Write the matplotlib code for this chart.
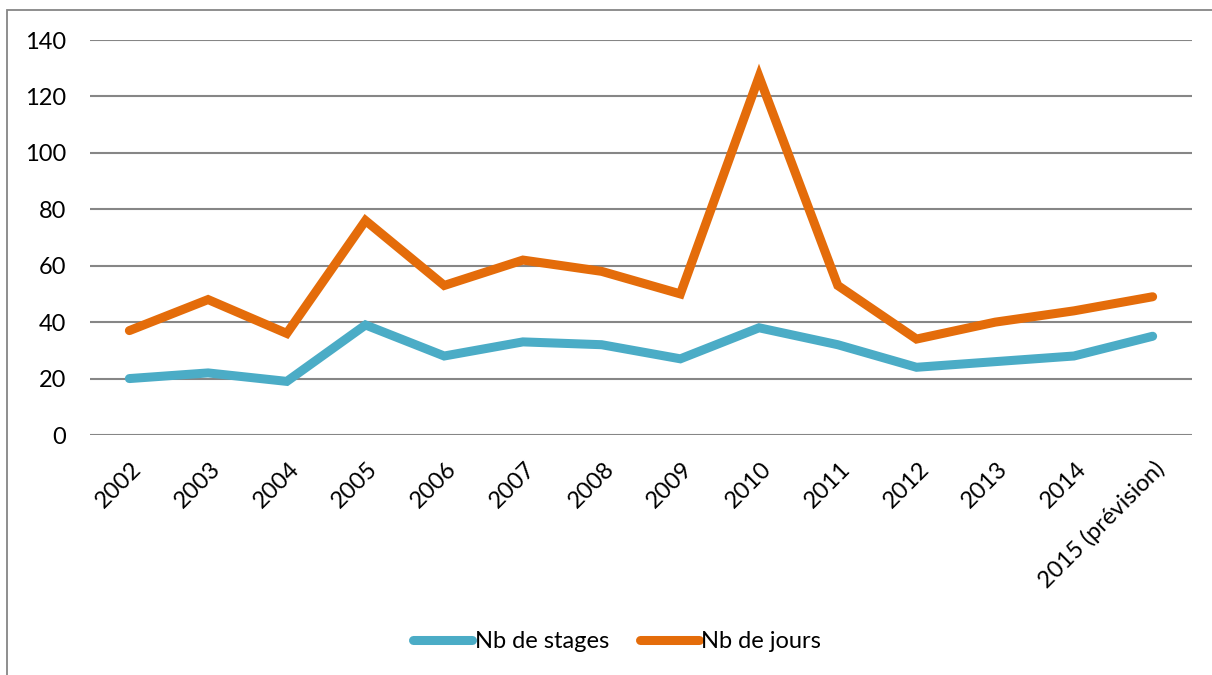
import matplotlib
matplotlib.use("Agg")
import matplotlib.pyplot as plt
from matplotlib.patches import Rectangle
from matplotlib.transforms import ScaledTranslation

# données
annees = ["2002", "2003", "2004", "2005", "2006", "2007", "2008", "2009",
          "2010", "2011", "2012", "2013", "2014", "2015 (prévision)"]
nb_stages = [20, 22, 19, 39, 28, 33, 32, 27, 38, 32, 24, 26, 28, 35]
nb_jours = [37, 48, 36, 76, 53, 62, 58, 50, 127, 53, 34, 40, 44, 49]
y_ticks = [0, 20, 40, 60, 80, 100, 120, 140]

bleu = "#4BACC6"
orange = "#E46C0A"
gris = "#868686"

plt.rcParams["font.family"] = ["Lato", "DejaVu Sans"]

W, H = 1212, 675
fig = plt.figure(figsize=(W / 100, H / 100), dpi=100)
ax = fig.add_axes([90 / W, 1 - 435 / H, (1192 - 90) / W, (435 - 40) / H])

x = list(range(len(annees)))
ax.plot(x, nb_stages, color=bleu, lw=6.5, solid_capstyle="round",
        solid_joinstyle="miter", label="Nb de stages", zorder=3)
ax.plot(x, nb_jours, color=orange, lw=6.5, solid_capstyle="round",
        solid_joinstyle="miter", label="Nb de jours", zorder=3)

ax.set_xlim(-0.5, len(annees) - 0.5)
ax.set_ylim(0, 140)
ax.set_yticks(y_ticks)
ax.set_yticklabels([str(v) for v in y_ticks], fontsize=17)
ax.set_xticks(x)
ax.set_xticklabels(annees, fontsize=17, rotation=45, ha="right",
                   va="center", rotation_mode="anchor")
ax.tick_params(axis="y", length=0, pad=17)
ax.tick_params(axis="x", length=0, pad=22)
# décalage des étiquettes vers la droite, comme dans Excel
decal = ScaledTranslation(9 / 100, 0, fig.dpi_scale_trans)
for lbl in ax.get_xticklabels():
    lbl.set_transform(lbl.get_transform() + decal)

ax.yaxis.grid(True, color=gris, lw=1.5)
ax.set_axisbelow(True)
for s in ax.spines.values():
    s.set_visible(False)

# cadre du graphique
fig.add_artist(Rectangle((7 / W, -0.1), 2, 1.1 - 10 / H, transform=fig.transFigure,
                         fill=False, edgecolor=gris, lw=1.3))

fig.legend(loc="center", bbox_to_anchor=(617 / W, 1 - 642 / H), ncol=2,
           frameon=False, fontsize=17, handlelength=2.5, handletextpad=0.12,
           columnspacing=1.3)

fig.savefig("out.png", dpi=100)
